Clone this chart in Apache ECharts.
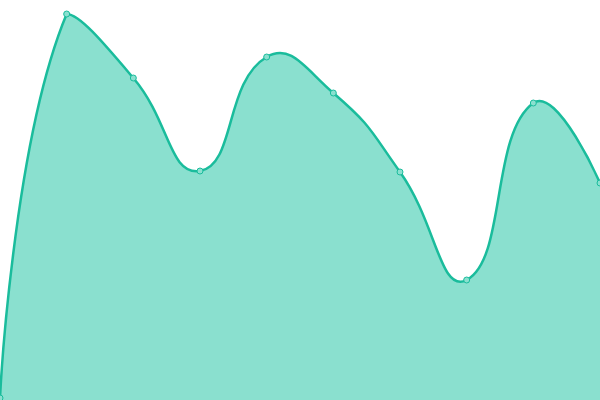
<!DOCTYPE html>
<html><head><meta charset="utf-8">
<script src="https://cdn.jsdelivr.net/npm/echarts@6/dist/echarts.min.js"></script>
<style>html,body{margin:0;padding:0;background:#fff}#c{width:600px;height:400px}</style>
</head><body><div id="c"></div>
<script>
var categories = ['1','2','3','4','5','6','7','8','9','10'];
var values = [2, 386, 322, 229, 343, 307, 228, 120, 297, 217];

var LINE = '#1abc9c', FILL = '#8ae0cf', SMOOTH = 0.5;

function smoothSegments(pts, smooth) {
  var minX = Infinity, minY = Infinity, maxX = -Infinity, maxY = -Infinity;
  pts.forEach(function (p) {
    minX = Math.min(minX, p[0]); maxX = Math.max(maxX, p[0]);
    minY = Math.min(minY, p[1]); maxY = Math.max(maxY, p[1]);
  });
  function clamp(c) {
    return [Math.max(minX, Math.min(maxX, c[0])), Math.max(minY, Math.min(maxY, c[1]))];
  }
  var d = 'M' + pts[0][0] + ',' + pts[0][1];
  var cp0 = pts[0].slice();
  var v = [0, 0];
  for (var i = 1; i < pts.length; i++) {
    var p = pts[i], prev = pts[i - 1], next = pts[i + 1];
    var ratio = 0.5, cp1;
    if (!next) {
      cp1 = p.slice();
    } else {
      v = [next[0] - prev[0], next[1] - prev[1]];
      var lp = Math.hypot(p[0] - prev[0], p[1] - prev[1]);
      var ln = Math.hypot(p[0] - next[0], p[1] - next[1]);
      ratio = ln / (ln + lp);
      cp1 = [p[0] - v[0] * smooth * (1 - ratio), p[1] - v[1] * smooth * (1 - ratio)];
    }
    cp0 = clamp(cp0); cp1 = clamp(cp1);
    d += ' C' + cp0[0] + ',' + cp0[1] + ' ' + cp1[0] + ',' + cp1[1] + ' ' + p[0] + ',' + p[1];
    cp0 = [p[0] + v[0] * smooth * ratio, p[1] + v[1] * smooth * ratio];
  }
  return d;
}

var chart = echarts.init(document.getElementById('c'));
chart.setOption({
  animation: false,
  grid: {left: 0, right: 0, top: 0, bottom: 0},
  xAxis: {type: 'category', data: categories, boundaryGap: false, show: false},
  yAxis: {type: 'value', min: 0, max: 400, show: false},
  series: [{
    type: 'custom',
    data: values,
    renderItem: function (params, api) {
      if (params.dataIndex !== 0) return null;
      var pts = values.map(function (val, i) { return api.coord([i, val]); });
      var top = smoothSegments(pts, SMOOTH);
      var base0 = api.coord([0, 0]), base1 = api.coord([values.length - 1, 0]);
      var area = top + ' L' + base1[0] + ',' + base1[1] + ' L' + base0[0] + ',' + base0[1] + ' Z';
      return {
        type: 'group',
        children: [
          {type: 'path', shape: {pathData: area}, style: {fill: FILL, stroke: null}},
          {type: 'path', shape: {pathData: top}, style: {fill: null, stroke: LINE, lineWidth: 2.5}}
        ]
      };
    },
    z: 1
  }, {
    type: 'scatter',
    data: values,
    symbol: 'circle',
    symbolSize: 6,
    itemStyle: {color: FILL, borderColor: LINE, borderWidth: 1, opacity: 1},
    z: 2
  }]
});
</script></body></html>
